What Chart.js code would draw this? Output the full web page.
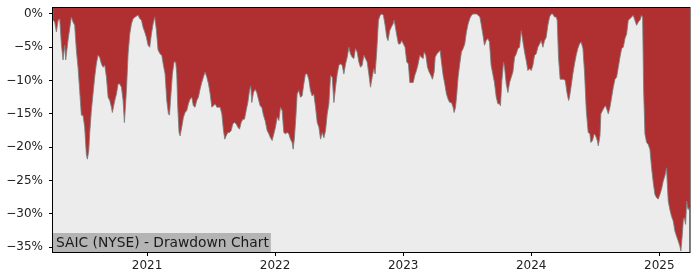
<!DOCTYPE html>
<html>
<head>
<meta charset="utf-8">
<script src="https://cdn.jsdelivr.net/npm/chart.js@4"></script>
<style>
  html, body { margin: 0; padding: 0; background: #fff; }
</style>
</head>
<body>
<canvas id="ddChart" width="700" height="280"></canvas>
<script>
// drawdown from running peak, x given as decimal year
const years = [
  2020.266, 2020.279, 2020.292, 2020.305, 2020.318, 2020.331, 2020.344, 2020.357, 2020.365, 2020.383,
  2020.409, 2020.422, 2020.435, 2020.448, 2020.461, 2020.474, 2020.487, 2020.500, 2020.513, 2020.526,
  2020.534, 2020.545, 2020.552, 2020.565, 2020.578, 2020.591, 2020.604, 2020.617, 2020.630, 2020.644,
  2020.657, 2020.670, 2020.683, 2020.696, 2020.709, 2020.722, 2020.729, 2020.748, 2020.761, 2020.774,
  2020.787, 2020.800, 2020.813, 2020.823, 2020.839, 2020.852, 2020.865, 2020.878, 2020.891, 2020.904,
  2020.930, 2020.943, 2020.956, 2020.969, 2020.982, 2020.995, 2021.008, 2021.021, 2021.034, 2021.047,
  2021.060, 2021.073, 2021.086,
  2021.102, 2021.115, 2021.128, 2021.141, 2021.154, 2021.167, 2021.175, 2021.185, 2021.198, 2021.211,
  2021.224, 2021.232, 2021.240, 2021.250, 2021.258, 2021.271, 2021.284, 2021.297, 2021.310, 2021.323,
  2021.336, 2021.349, 2021.362, 2021.375, 2021.388, 2021.401, 2021.414, 2021.427, 2021.440, 2021.453,
  2021.467, 2021.480, 2021.493, 2021.506, 2021.519, 2021.532, 2021.545, 2021.558, 2021.571, 2021.584,
  2021.597, 2021.607, 2021.618, 2021.631, 2021.644, 2021.657, 2021.670, 2021.683, 2021.696, 2021.709,
  2021.722, 2021.735, 2021.748, 2021.761, 2021.774, 2021.787, 2021.800, 2021.810, 2021.818, 2021.831,
  2021.844, 2021.857, 2021.870, 2021.883, 2021.896, 2021.909, 2021.922,
  2021.938, 2021.951, 2021.964, 2021.977, 2021.990, 2022.003, 2022.016, 2022.029, 2022.042, 2022.055,
  2022.068, 2022.081, 2022.094, 2022.107, 2022.120, 2022.133, 2022.141, 2022.151, 2022.162, 2022.172,
  2022.185, 2022.198, 2022.211, 2022.224, 2022.237, 2022.250, 2022.263, 2022.276, 2022.289, 2022.302,
  2022.316, 2022.329, 2022.342, 2022.355, 2022.368, 2022.381, 2022.394, 2022.407, 2022.420, 2022.433,
  2022.446, 2022.459, 2022.472, 2022.485, 2022.498, 2022.511, 2022.524, 2022.537, 2022.550, 2022.563,
  2022.576, 2022.589, 2022.602, 2022.615, 2022.628, 2022.641, 2022.654, 2022.667, 2022.680, 2022.693,
  2022.706, 2022.719, 2022.732, 2022.745, 2022.758, 2022.771,
  2022.781, 2022.794, 2022.807, 2022.820, 2022.833, 2022.846, 2022.859, 2022.872, 2022.882, 2022.895,
  2022.908, 2022.921, 2022.929, 2022.937, 2022.950, 2022.963, 2022.976, 2022.989, 2023.002, 2023.015,
  2023.028, 2023.041, 2023.052, 2023.065, 2023.078, 2023.091, 2023.104, 2023.117, 2023.130, 2023.143,
  2023.156, 2023.164, 2023.177, 2023.190, 2023.203, 2023.216, 2023.229, 2023.242, 2023.250, 2023.263,
  2023.276, 2023.289, 2023.299, 2023.312, 2023.325, 2023.338, 2023.351, 2023.364, 2023.377, 2023.390,
  2023.398, 2023.409, 2023.419, 2023.429, 2023.442, 2023.455, 2023.468, 2023.481, 2023.494, 2023.507,
  2023.520, 2023.533, 2023.546, 2023.560, 2023.573, 2023.586, 2023.599,
  2023.609, 2023.622, 2023.635, 2023.648, 2023.661, 2023.674, 2023.687, 2023.700, 2023.713, 2023.727,
  2023.740, 2023.753, 2023.760, 2023.771, 2023.784, 2023.792, 2023.805, 2023.818, 2023.831, 2023.844,
  2023.857, 2023.870, 2023.883, 2023.896, 2023.909, 2023.922, 2023.930, 2023.938, 2023.948, 2023.961,
  2023.974, 2023.987, 2024.000, 2024.013, 2024.026, 2024.039, 2024.052, 2024.065, 2024.078, 2024.091,
  2024.104, 2024.117, 2024.130, 2024.143, 2024.156, 2024.169, 2024.182, 2024.195, 2024.203, 2024.213,
  2024.226, 2024.239, 2024.252, 2024.266, 2024.279, 2024.292, 2024.299, 2024.312, 2024.325, 2024.338,
  2024.351, 2024.364, 2024.377, 2024.390, 2024.404, 2024.417, 2024.430,
  2024.445, 2024.458, 2024.466, 2024.479, 2024.492, 2024.503, 2024.516, 2024.524, 2024.537, 2024.544,
  2024.557, 2024.570, 2024.581, 2024.594, 2024.602, 2024.615, 2024.628, 2024.641, 2024.654, 2024.667,
  2024.680, 2024.693, 2024.706, 2024.719, 2024.732, 2024.745, 2024.758, 2024.771, 2024.784, 2024.797,
  2024.810, 2024.823, 2024.836, 2024.849, 2024.862, 2024.870, 2024.878, 2024.888, 2024.901, 2024.914,
  2024.927, 2024.940, 2024.953, 2024.966, 2024.979, 2024.992, 2025.005, 2025.018, 2025.031, 2025.044,
  2025.057, 2025.063, 2025.070, 2025.083, 2025.096, 2025.109, 2025.122, 2025.135, 2025.148, 2025.161,
  2025.169, 2025.180, 2025.188, 2025.195, 2025.206, 2025.214, 2025.221, 2025.227, 2025.237
];
const drawdown = [
  -0.95, -1.2, -2.7, -1.0, -0.7, -4.5, -6.9, -4.7, -6.9, -3.9,
  -0.45, -1.2, -1.7, -5.4, -8.0, -11.5, -15.2, -15.2, -17.0, -21.1,
  -21.8, -20.5, -18.0, -14.5, -12.0, -9.5, -7.5, -6.2, -6.5, -7.5,
  -8.0, -7.7, -9.5, -12.5, -13.0, -14.0, -14.8, -13.0, -12.0, -10.5,
  -10.5, -11.0, -13.0, -16.3, -11.5, -6.0, -3.0, -1.5, -0.7, -0.5,
  -0.15, -0.7, -0.9, -2.0, -2.7, -3.5, -4.7, -5.0, -3.0, -1.5,
  -0.45, -2.4, -5.4,
  -6.0, -6.2, -7.7, -9.0, -13.0, -15.0, -15.2, -12.5, -9.0, -7.2,
  -7.2, -9.0, -14.0, -17.8, -18.3, -17.0, -15.5, -14.8, -14.5, -13.5,
  -12.8, -12.5, -13.8, -14.0, -13.0, -12.5, -11.3, -10.3, -9.5, -8.7,
  -9.5, -10.5, -12.0, -14.0, -13.8, -13.5, -14.0, -14.0, -14.0, -15.0,
  -17.5, -18.8, -18.3, -17.8, -17.8, -17.5, -16.5, -16.3, -16.5, -17.0,
  -17.3, -16.3, -15.8, -15.8, -14.5, -13.3, -11.5, -10.8, -13.3, -11.8,
  -11.3, -11.8, -12.8, -13.8, -14.0, -15.2, -16.0,
  -17.5, -18.0, -18.6, -19.0, -18.0, -17.0, -15.5, -16.0, -14.0, -14.5,
  -17.8, -18.0, -17.8, -18.0, -18.8, -19.3, -20.3, -18.6, -15.5, -12.0,
  -11.5, -12.5, -12.3, -10.5, -9.0, -9.0, -9.8, -11.5, -12.3, -12.0,
  -14.0, -16.3, -17.0, -18.8, -17.8, -18.6, -17.5, -15.0, -13.5, -9.2,
  -9.5, -13.3, -11.0, -9.0, -7.7, -7.5, -7.7, -9.0, -7.5, -6.5,
  -5.0, -6.0, -6.5, -6.7, -5.2, -5.7, -7.2, -8.0, -7.7, -6.2,
  -6.7, -7.2, -9.0, -11.0, -9.5, -8.2,
  -9.0, -5.5, -0.95, -0.2, 0, -0.2, -1.7, -3.5, -4.0, -2.5,
  -1.95, -1.5, -0.95, -1.7, -3.2, -4.5, -4.5, -4.0, -4.5, -5.0,
  -7.2, -7.5, -10.3, -10.3, -10.3, -9.2, -8.5, -7.5, -6.2, -6.5,
  -6.7, -5.7, -6.2, -8.0, -8.7, -9.2, -9.8, -8.7, -6.5, -6.0,
  -5.7, -5.5, -7.2, -9.2, -10.5, -12.0, -12.8, -13.3, -13.3, -14.0,
  -14.8, -14.0, -12.0, -9.5, -7.5, -5.7, -5.2, -4.5, -2.7, -1.5,
  -0.7, -0.2, 0, 0, 0, -0.2, -0.45,
  -1.5, -3.0, -4.7, -4.0, -3.7, -4.2, -7.7, -9.0, -10.3, -12.5,
  -13.5, -13.5, -13.8, -10.0, -7.2, -8.0, -10.5, -11.8, -10.3, -9.5,
  -8.7, -6.5, -6.0, -5.2, -5.0, -2.5, -3.5, -4.5, -5.7, -7.0,
  -8.5, -8.2, -8.5, -7.7, -6.2, -6.0, -5.0, -4.5, -4.0, -5.0,
  -4.0, -3.5, -1.7, -0.45, 0, 0, -0.45, -0.45, -0.95, -6.5,
  -9.8, -9.8, -9.8, -10.0, -11.8, -13.0, -12.5, -10.8, -9.0, -7.5,
  -6.2, -5.2, -4.5, -4.2, -5.2, -9.0, -14.5,
  -17.8, -18.0, -19.3, -19.0, -18.0, -18.3, -19.0, -19.8, -18.3, -15.0,
  -14.5, -14.0, -13.8, -14.5, -15.0, -14.0, -12.5, -11.0, -9.8, -9.5,
  -8.0, -6.5, -5.2, -5.0, -3.7, -3.0, -0.95, -0.7, -0.45, -0.2,
  -0.95, -1.7, -1.2, -0.95, -0.2, -0.45, -11.5, -18.0, -19.3, -19.6,
  -20.3, -23.1, -25.3, -27.1, -27.6, -27.8, -27.1, -26.3, -25.1, -24.3,
  -23.1, -25.6, -28.1, -29.4, -30.4, -31.1, -32.6, -33.4, -34.1, -34.9,
  -35.6, -33.1, -30.9, -30.6, -31.6, -28.1, -29.1, -29.4, -28.8
];
const yearTicks = [2021, 2022, 2023, 2024, 2025];
const pctTicks = [0, -5, -10, -15, -20, -25, -30, -35];
const chartTitle = 'SAIC (NYSE) - Drawdown Chart';

const points = years.map((x, i) => ({ x: x, y: drawdown[i] }));

const plotDecor = {
  id: 'plotDecor',
  beforeDatasetsDraw(chart) {
    const { ctx, chartArea: a } = chart;
    ctx.save();
    ctx.fillStyle = '#ececec';
    ctx.fillRect(a.left, a.top, a.right - a.left, a.bottom - a.top);
    ctx.restore();
  },
  afterDatasetsDraw(chart) {
    const { ctx, chartArea: a } = chart;
    ctx.save();
    // label box in lower left corner
    ctx.font = '13.8px "DejaVu Sans"';
    const w = ctx.measureText(chartTitle).width + 5;
    ctx.fillStyle = '#b4b4b4';
    ctx.fillRect(a.left, a.bottom - 19, w, 19);
    ctx.fillStyle = '#1a1a1a';
    ctx.textBaseline = 'middle';
    ctx.fillText(chartTitle, a.left + 3, a.bottom - 9);
    // frame
    ctx.strokeStyle = '#000';
    ctx.lineWidth = 1;
    ctx.strokeRect(a.left - 0.5, a.top + 0.5, a.right - a.left + 0.5, a.bottom - a.top);
    ctx.restore();
  }
};

new Chart(document.getElementById('ddChart'), {
  type: 'line',
  data: {
    datasets: [{
      data: points,
      fill: 'end',
      backgroundColor: '#b03031',
      borderColor: 'rgba(125, 125, 125, 0.85)',
      borderWidth: 1,
      pointRadius: 0,
      tension: 0
    }]
  },
  options: {
    responsive: false,
    animation: false,
    devicePixelRatio: 1,
    layout: { padding: { top: 7, right: 10, left: 0, bottom: 0 } },
    plugins: { legend: { display: false }, tooltip: { enabled: false } },
    scales: {
      x: {
        type: 'linear',
        min: 2020.2656,
        max: 2025.24,
        afterBuildTicks: (s) => { s.ticks = yearTicks.map(v => ({ value: v })); },
        afterFit: (s) => { s.height = 28; s.paddingLeft = 0; s.paddingRight = 0; },
        grid: { drawOnChartArea: false, drawTicks: true, tickLength: 4, color: '#000' },
        border: { display: false },
        ticks: {
          font: { family: 'DejaVu Sans', size: 12 },
          color: '#222',
          padding: 3,
          maxRotation: 0,
          callback: (v) => String(v)
        }
      },
      y: {
        min: -35.75,
        max: 1.05,
        afterBuildTicks: (s) => { s.ticks = pctTicks.map(v => ({ value: v })); },
        afterFit: (s) => { s.width = 53; s.paddingTop = 0; s.paddingBottom = 0; },
        grid: { drawOnChartArea: false, drawTicks: true, tickLength: 4, color: '#000' },
        border: { display: false },
        ticks: {
          font: { family: 'DejaVu Sans', size: 12 },
          color: '#222',
          padding: 6,
          callback: (v) => v === 0 ? '0%' : '\u2212' + Math.abs(v) + '%'
        }
      }
    }
  },
  plugins: [plotDecor]
});
</script>
</body>
</html>
